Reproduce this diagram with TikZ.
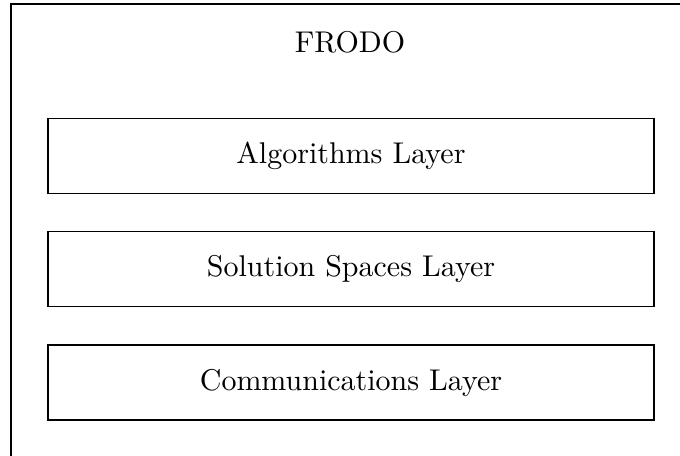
\documentclass[tikz,border=0pt]{standalone}
\begin{document}
\begin{tikzpicture}[x=0.33333pt,y=-0.33333pt,
  layerbox/.style={draw, line width=0.45pt, minimum width=202pt, minimum height=25pt, inner sep=0pt, anchor=center}]
\useasboundingbox (0,0) rectangle (680,456);
\clip (0,0) rectangle (680,456);
\draw[line width=0.5pt] (11,4) rectangle (720,490);
\node[anchor=base] (frodo) at (350,52.7) {FRODO};
\node[layerbox] (alg) at (351,155.7) {Algorithms Layer};
\node[layerbox] (sol) at (351,269) {Solution Spaces Layer};
\node[layerbox] (com) at (351,382.6) {Communications Layer};
\end{tikzpicture}
\end{document}
